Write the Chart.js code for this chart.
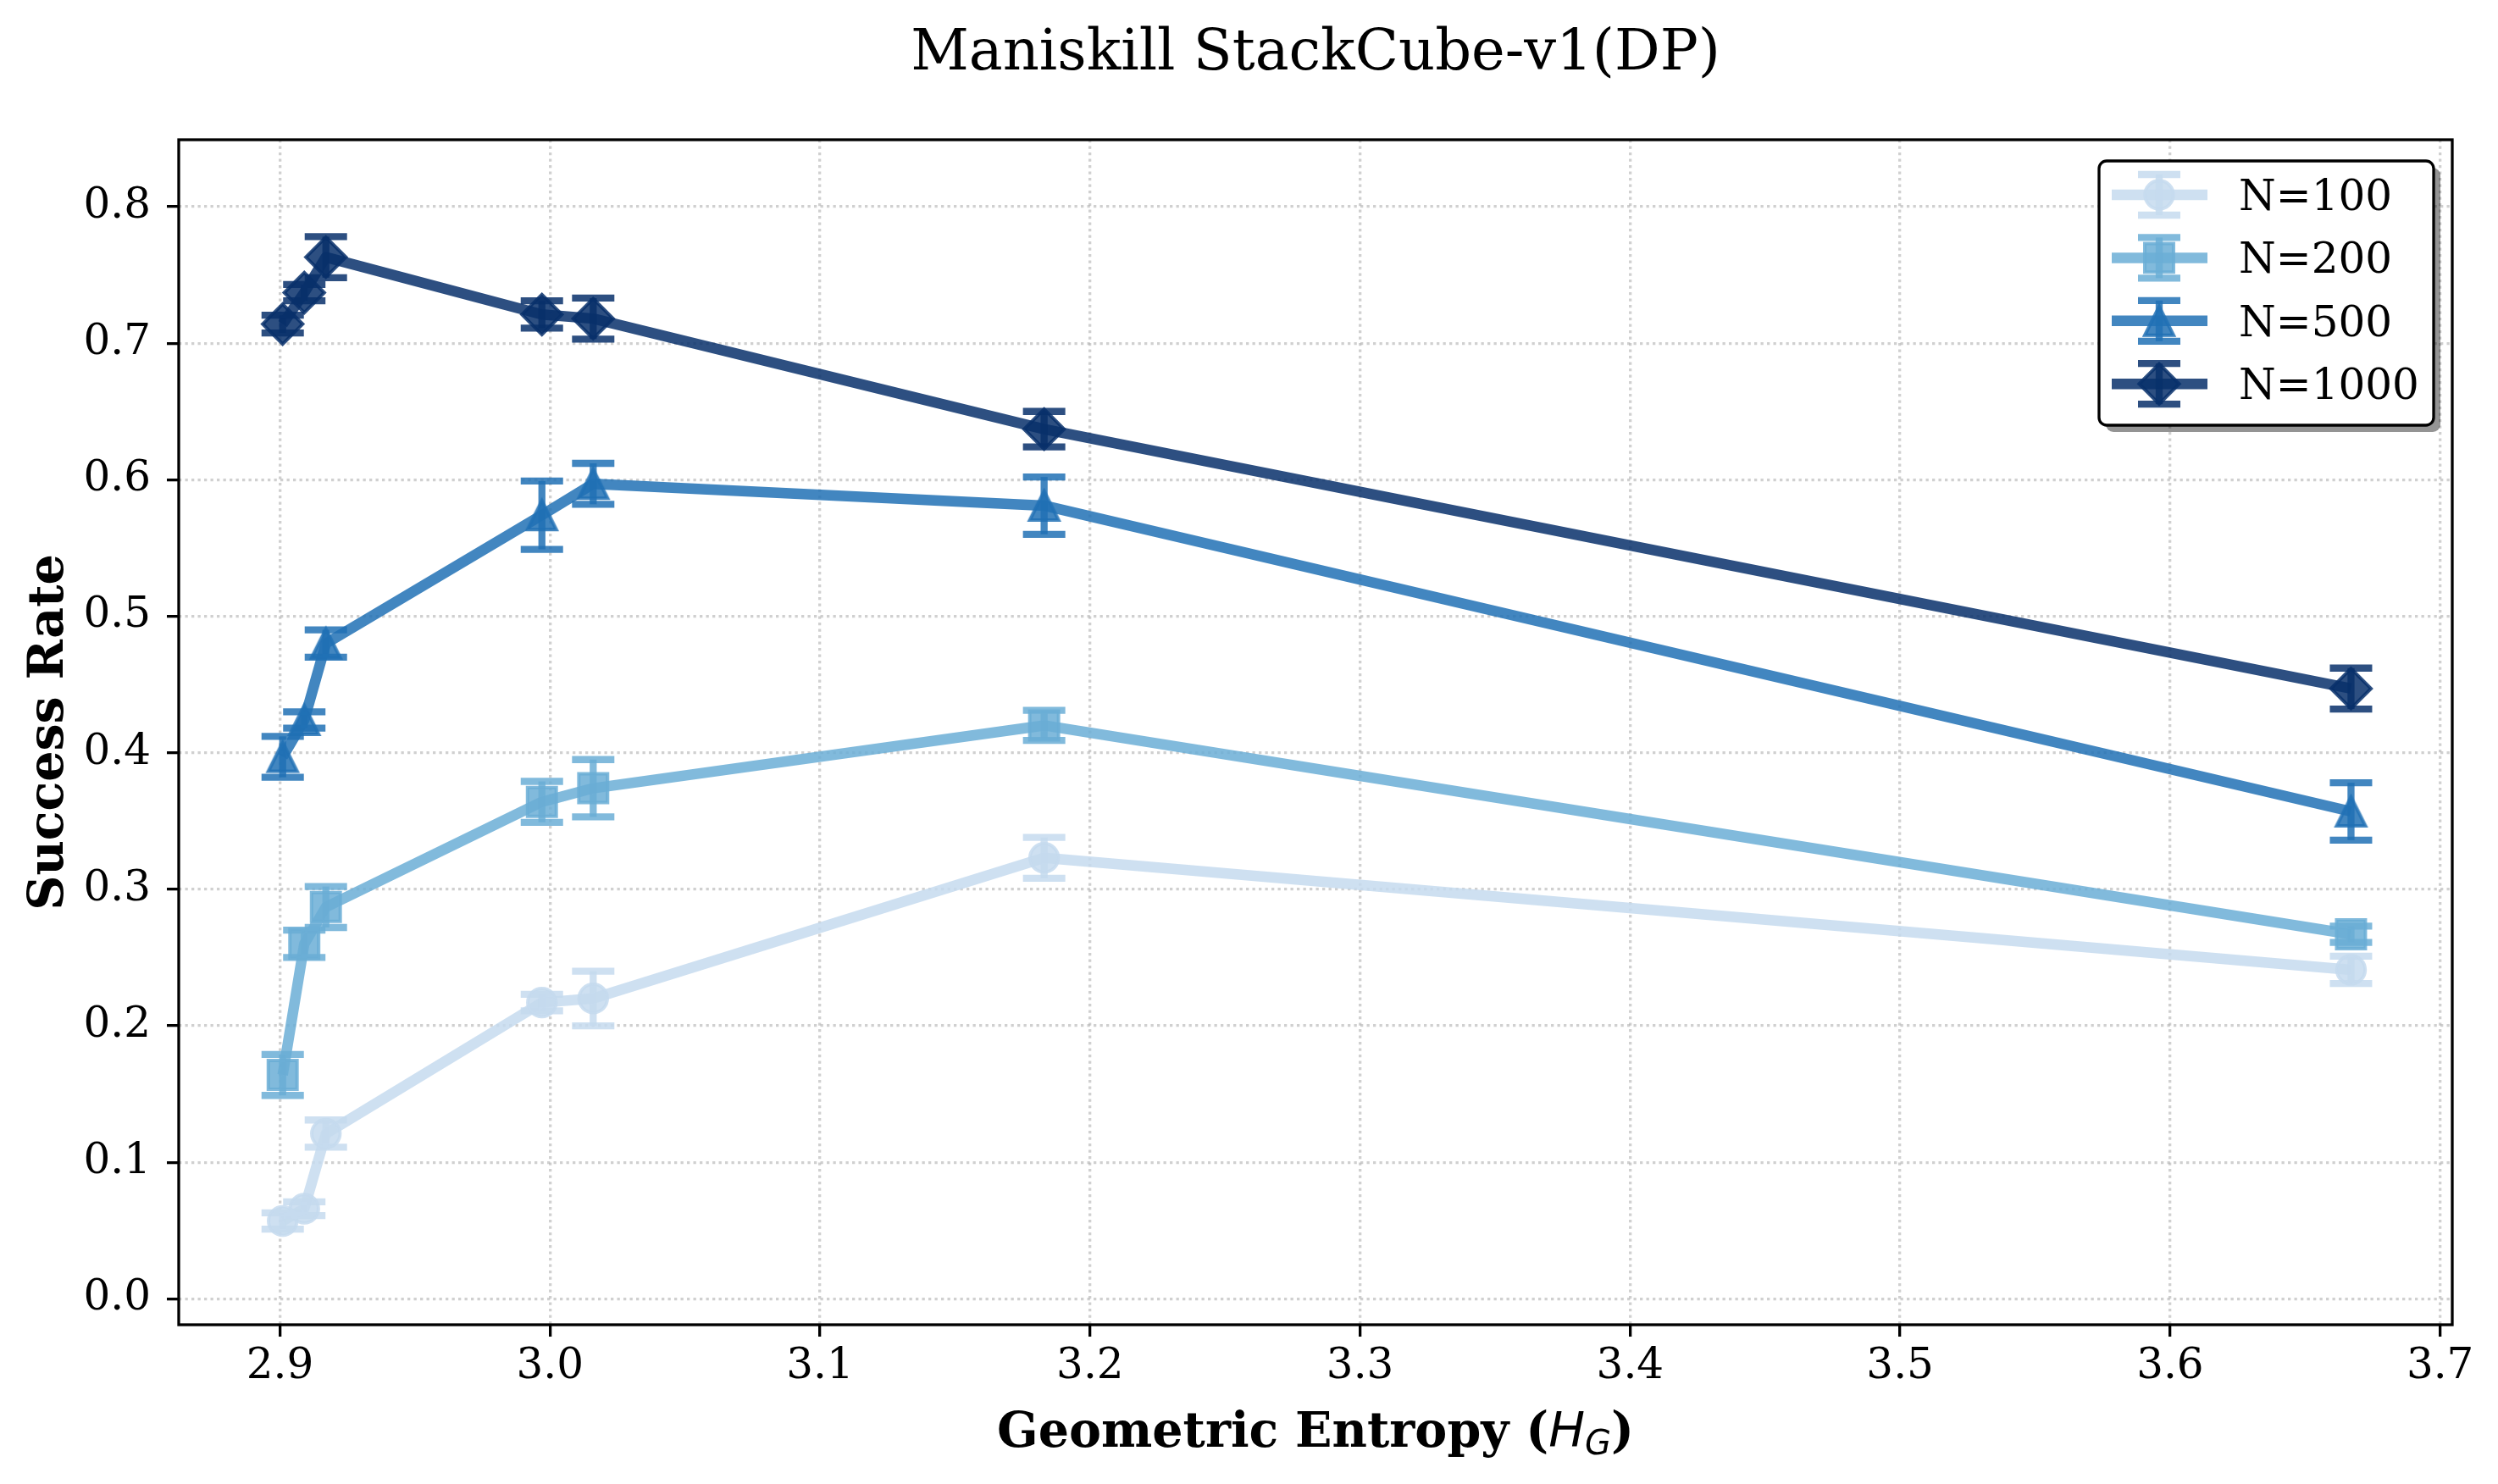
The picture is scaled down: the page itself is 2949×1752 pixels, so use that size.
<!DOCTYPE html>
<html>
<head>
<meta charset="utf-8">
<title>Maniskill StackCube-v1(DP)</title>
<script src="https://cdn.jsdelivr.net/npm/chart.js@4.4.1/dist/chart.umd.min.js"></script>
<style>
  html, body { margin: 0; padding: 0; background: #fff; }
  #wrap { width: 2949px; height: 1752px; }
</style>
</head>
<body>
<div id="wrap"><canvas id="chart" width="2949" height="1752"></canvas></div>
<script>
// values
const entropy = [2.901, 2.909, 2.917, 2.997, 3.016, 3.183, 3.667];

const rateN100 = [0.057, 0.066, 0.121, 0.217, 0.220, 0.323, 0.241];
const errN100 = [0.006, 0.005, 0.010, 0.006, 0.020, 0.015, 0.010];
const rateN200 = [0.164, 0.260, 0.287, 0.364, 0.374, 0.420, 0.267];
const errN200 = [0.015, 0.010, 0.015, 0.015, 0.021, 0.011, 0.006];
const rateN500 = [0.397, 0.424, 0.480, 0.574, 0.597, 0.581, 0.357];
const errN500 = [0.015, 0.006, 0.010, 0.025, 0.015, 0.021, 0.021];
const rateN1000 = [0.714, 0.737, 0.763, 0.721, 0.718, 0.637, 0.447];
const errN1000 = [0.0065, 0.006, 0.015, 0.010, 0.015, 0.013, 0.015];

const seriesLabels = ['N=100', 'N=200', 'N=500', 'N=1000'];
const xTicks = [2.9, 3.0, 3.1, 3.2, 3.3, 3.4, 3.5, 3.6, 3.7];
const yTicks = [0.0, 0.1, 0.2, 0.3, 0.4, 0.5, 0.6, 0.7, 0.8];

const chartTitle = 'Maniskill StackCube-v1(DP)';
const yTitle = 'Success Rate';
const xTitleParts = ['Geometric Entropy (', 'H', 'G', ')'];

const seriesRates = [rateN100, rateN200, rateN500, rateN1000];
const seriesErrs = [errN100, errN200, errN500, errN1000];
const seriesColors = ['#c6dbef', '#6baed6', '#2171b5', '#08306b'];

const ALPHA = 0.85;
const SERIF = '"DejaVu Serif", "Liberation Serif", serif';

function rgba(hex, a) {
  const n = parseInt(hex.slice(1), 16);
  return `rgba(${(n >> 16) & 255}, ${(n >> 8) & 255}, ${n & 255}, ${a})`;
}

// matplotlib-like '^' marker (isosceles, not equilateral)
function triangleMarker(color) {
  const s = 17, lw = 4;
  const size = 2 * s + 10;
  const c = document.createElement('canvas');
  c.width = size; c.height = size;
  const g = c.getContext('2d');
  const m = size / 2;
  g.beginPath();
  g.moveTo(m, m - s);
  g.lineTo(m - s, m + s);
  g.lineTo(m + s, m + s);
  g.closePath();
  g.fillStyle = rgba(color, ALPHA);
  g.fill();
  g.lineWidth = lw;
  g.strokeStyle = rgba(color, ALPHA);
  g.stroke();
  return c;
}

const markerStyles = ['circle', 'rect', triangleMarker(seriesColors[2]), 'rectRot'];
const markerRadius = [16.7, 24, 17, 23.6];

const datasets = seriesLabels.map((label, i) => ({
  label,
  data: entropy.map((x, j) => ({ x, y: seriesRates[i][j] })),
  errors: seriesErrs[i],
  borderColor: rgba(seriesColors[i], ALPHA),
  borderWidth: 12.5,
  borderJoinStyle: 'round',
  pointStyle: markerStyles[i],
  pointRadius: markerRadius[i],
  pointHoverRadius: markerRadius[i],
  pointBackgroundColor: rgba(seriesColors[i], ALPHA),
  pointBorderColor: rgba(seriesColors[i], ALPHA),
  pointBorderWidth: 4,
  pointHoverBorderWidth: 4,
  tension: 0,
  fill: false,
  clip: false,
  order: seriesLabels.length - 1 - i
}));

function drawMarker(ctx, style, r, x, y, color) {
  if (style instanceof HTMLCanvasElement) {
    ctx.drawImage(style, x - style.width / 2, y - style.height / 2);
    return;
  }
  ctx.beginPath();
  if (style === 'circle') {
    ctx.arc(x, y, r, 0, Math.PI * 2);
  } else if (style === 'rect') {
    const h = r * Math.SQRT1_2;
    ctx.rect(x - h, y - h, 2 * h, 2 * h);
  } else {
    ctx.moveTo(x - r, y); ctx.lineTo(x, y - r);
    ctx.lineTo(x + r, y); ctx.lineTo(x, y + r);
    ctx.closePath();
  }
  ctx.fillStyle = rgba(color, ALPHA);
  ctx.fill();
  ctx.lineWidth = 4;
  ctx.strokeStyle = rgba(color, ALPHA);
  ctx.stroke();
}

function drawErrorBar(ctx, x, yLo, yHi, color) {
  ctx.strokeStyle = rgba(color, ALPHA);
  ctx.lineWidth = 8.3;
  ctx.lineCap = 'butt';
  ctx.beginPath(); ctx.moveTo(x, yLo); ctx.lineTo(x, yHi); ctx.stroke();
  [yLo, yHi].forEach(yy => {
    ctx.beginPath(); ctx.moveTo(x - 25, yy); ctx.lineTo(x + 25, yy); ctx.stroke();
  });
}

// error bars are drawn right after each series so stacking order matches
const errorBars = {
  id: 'errorBars',
  afterDatasetDraw(chart, args) {
    const ds = chart.data.datasets[args.index];
    const i = seriesLabels.indexOf(ds.label);
    const { ctx, scales } = chart;
    ctx.save();
    ds.data.forEach((p, j) => {
      const px = scales.x.getPixelForValue(p.x);
      const lo = scales.y.getPixelForValue(p.y - ds.errors[j]);
      const hi = scales.y.getPixelForValue(p.y + ds.errors[j]);
      drawErrorBar(ctx, px, lo, hi, seriesColors[i]);
    });
    ctx.restore();
  }
};

function roundRect(ctx, x, y, w, h, r) {
  ctx.beginPath();
  ctx.moveTo(x + r, y);
  ctx.arcTo(x + w, y, x + w, y + h, r);
  ctx.arcTo(x + w, y + h, x, y + h, r);
  ctx.arcTo(x, y + h, x, y, r);
  ctx.arcTo(x, y, x + w, y, r);
  ctx.closePath();
}

const decorations = {
  id: 'decorations',
  afterDraw(chart) {
    const { ctx, chartArea: a } = chart;
    const cx = (a.left + a.right) / 2;
    ctx.save();

    // axes box
    ctx.strokeStyle = '#000';
    ctx.lineWidth = 3.3;
    ctx.strokeRect(a.left, a.top, a.right - a.left, a.bottom - a.top);

    // title
    ctx.fillStyle = '#000';
    ctx.textAlign = 'center';
    ctx.textBaseline = 'alphabetic';
    ctx.font = `67px ${SERIF}`;
    ctx.fillText(chartTitle, cx, 82);

    // y title
    ctx.save();
    ctx.translate(74, (a.top + a.bottom) / 2);
    ctx.rotate(-Math.PI / 2);
    ctx.font = `bold 57px ${SERIF}`;
    ctx.fillText(yTitle, 0, 0);
    ctx.restore();

    // x title with math H_G
    const fonts = [
      `bold 57px ${SERIF}`,
      'italic 57px "DejaVu Sans", sans-serif',
      'italic 40px "DejaVu Sans", sans-serif',
      `bold 57px ${SERIF}`
    ];
    const dys = [0, 0, 9, 0];
    let total = 0;
    const widths = xTitleParts.map((t, k) => {
      ctx.font = fonts[k];
      const w = ctx.measureText(t).width;
      total += w;
      return w;
    });
    let xx = cx - total / 2;
    ctx.textAlign = 'left';
    xTitleParts.forEach((t, k) => {
      ctx.font = fonts[k];
      ctx.fillText(t, xx, 1708 + dys[k]);
      xx += widths[k];
    });

    // legend
    const lx = 2478, ly = 190, lw = 395, lh = 312;
    roundRect(ctx, lx + 8, ly + 8, lw, lh, 9);
    ctx.fillStyle = 'rgba(0,0,0,0.42)';
    ctx.fill();
    roundRect(ctx, lx, ly, lw, lh, 9);
    ctx.fillStyle = '#fff';
    ctx.fill();
    ctx.lineWidth = 3.3;
    ctx.strokeStyle = '#000';
    ctx.stroke();

    seriesLabels.forEach((label, i) => {
      const ry = 230 + i * 74.4;
      const color = seriesColors[i];
      ctx.strokeStyle = rgba(color, ALPHA);
      ctx.lineWidth = 12.5;
      ctx.lineCap = 'butt';
      ctx.beginPath(); ctx.moveTo(2493, ry); ctx.lineTo(2606, ry); ctx.stroke();
      drawMarker(ctx, markerStyles[i], markerRadius[i], 2549, ry, color);
      drawErrorBar(ctx, 2549, ry + 24, ry - 24, color);
      ctx.fillStyle = '#000';
      ctx.font = `50px ${SERIF}`;
      ctx.textAlign = 'left';
      ctx.textBaseline = 'alphabetic';
      ctx.fillText(label, 2643, ry + 18);
    });

    ctx.restore();
  }
};

const gridStyle = {
  color: 'rgba(176,176,176,0.6)',
  lineWidth: 3.3,
  tickColor: '#000',
  tickWidth: 3.3,
  tickLength: 14,
  tickBorderDash: []
};

new Chart(document.getElementById('chart'), {
  type: 'line',
  data: { datasets },
  options: {
    responsive: false,
    animation: false,
    events: [],
    layout: { padding: { top: 165, right: 54, left: 0, bottom: 0 } },
    plugins: {
      legend: { display: false },
      tooltip: { enabled: false },
      title: { display: false }
    },
    scales: {
      x: {
        type: 'linear',
        min: 2.8625,
        max: 3.7045,
        afterBuildTicks: (s) => { s.ticks = xTicks.map(v => ({ value: v })); },
        afterFit: (s) => { s.height = 188; s.paddingLeft = 0; s.paddingRight = 0; },
        ticks: {
          autoSkip: false,
          maxRotation: 0,
          padding: 6,
          color: '#000',
          font: { family: SERIF, size: 50 },
          callback: (v) => Number(v).toFixed(1)
        },
        grid: gridStyle,
        border: { display: false, dash: [3.3, 4.2] }
      },
      y: {
        type: 'linear',
        min: -0.019,
        max: 0.849,
        afterBuildTicks: (s) => { s.ticks = yTicks.map(v => ({ value: v })); },
        afterFit: (s) => { s.width = 211; s.paddingTop = 0; s.paddingBottom = 0; },
        ticks: {
          autoSkip: false,
          padding: 19,
          color: '#000',
          font: { family: SERIF, size: 50 },
          callback: (v) => Number(v).toFixed(1)
        },
        grid: gridStyle,
        border: { display: false, dash: [3.3, 4.2] }
      }
    }
  },
  plugins: [errorBars, decorations]
});
</script>
</body>
</html>
